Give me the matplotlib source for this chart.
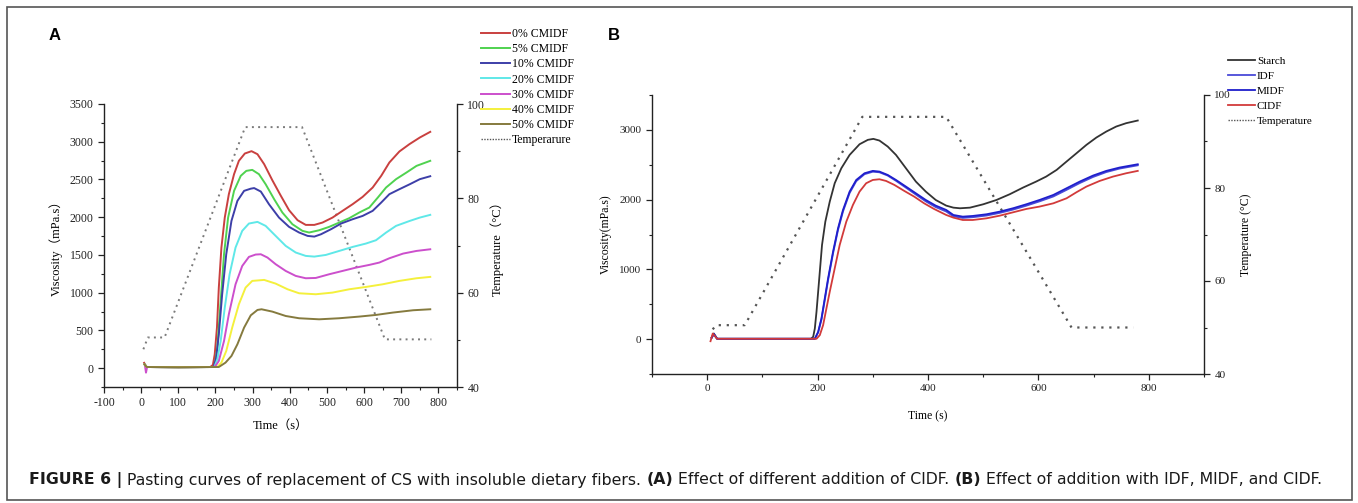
import matplotlib
matplotlib.use("Agg")
import matplotlib.pyplot as plt
from matplotlib.lines import Line2D
from matplotlib.patches import Rectangle
from matplotlib.ticker import MultipleLocator

plt.rcParams["axes.unicode_minus"] = False

W, H = 1358, 503
SERIF = ["Liberation Serif", "Noto Sans CJK SC", "DejaVu Sans"]
SANS = ["Liberation Sans", "DejaVu Sans"]
CAP_FONT = ["DejaVu Sans"]

# ---- panel A: viscosity (mPa.s) vs time (s) for CMIDF additions ----
LABELS_A = ["0% CMIDF", "5% CMIDF", "10% CMIDF", "20% CMIDF", "30% CMIDF", "40% CMIDF", "50% CMIDF"]
COLORS_A = ["#c9403f", "#4fd24f", "#3d3fa8", "#5fe8e8", "#cc4fcc", "#f4f03c", "#857a3e"]

t_a0 = [8, 14, 100, 186, 193, 198, 204, 209, 216, 225, 236, 250, 263, 279, 297, 313, 331, 353, 376, 398, 421, 443,
        466, 488, 515, 542, 569, 596, 623, 646, 668, 695, 722, 750, 778]
v_a0 = [70, 15, 12, 15, 42, 183, 537, 1067, 1598, 1995, 2305, 2570, 2747, 2844, 2875, 2835, 2703, 2490, 2283, 2093,
        1960, 1898, 1898, 1929, 1995, 2084, 2172, 2269, 2393, 2548, 2725, 2871, 2968, 3056, 3131]
t_a5 = [9, 15, 100, 193, 198, 205, 214, 223, 234, 250, 268, 283, 299, 317, 335, 358, 380, 407, 434, 452, 479, 506,
        533, 560, 587, 614, 637, 659, 686, 714, 741, 778]
v_a5 = [50, 15, 12, 15, 30, 272, 890, 1509, 1995, 2349, 2548, 2614, 2627, 2570, 2437, 2238, 2062, 1907, 1819, 1797,
        1827, 1872, 1929, 1987, 2062, 2128, 2261, 2393, 2504, 2592, 2680, 2747]
t_a10 = [9, 15, 100, 195, 202, 209, 218, 229, 243, 259, 277, 295, 304, 322, 344, 371, 398, 425, 448, 466, 484, 511,
         538, 569, 596, 623, 646, 668, 695, 723, 750, 778]
v_a10 = [50, 15, 12, 15, 139, 448, 979, 1509, 1951, 2216, 2349, 2378, 2386, 2340, 2172, 1995, 1872, 1797, 1752, 1743,
         1774, 1841, 1916, 1973, 2017, 2084, 2194, 2305, 2371, 2437, 2504, 2543]
t_a20 = [9, 15, 100, 197, 205, 214, 225, 238, 254, 272, 290, 313, 335, 362, 389, 416, 443, 466, 497, 533, 569, 605,
         632, 659, 686, 723, 750, 778]
v_a20 = [50, 15, 12, 15, 117, 360, 802, 1244, 1598, 1819, 1916, 1938, 1885, 1752, 1620, 1532, 1487, 1478, 1500, 1553,
         1606, 1651, 1695, 1796, 1885, 1951, 1995, 2031]
t_a30 = [10, 13, 16, 100, 195, 200, 209, 223, 236, 254, 272, 290, 308, 322, 340, 362, 389, 416, 443, 470, 506, 542,
         578, 614, 641, 668, 705, 741, 778]
v_a30 = [40, -60, 15, 12, 15, 28, 95, 360, 714, 1111, 1354, 1474, 1505, 1509, 1465, 1377, 1288, 1222, 1191, 1195,
         1244, 1288, 1332, 1368, 1399, 1456, 1518, 1553, 1575]
t_a40 = [9, 15, 100, 205, 216, 229, 245, 263, 281, 299, 331, 362, 394, 425, 470, 515, 560, 605, 650, 695, 741, 778]
v_a40 = [50, 15, 12, 15, 73, 227, 537, 846, 1067, 1156, 1169, 1120, 1045, 992, 979, 1001, 1045, 1076, 1111, 1156,
         1191, 1209]
t_a50 = [9, 15, 100, 209, 227, 243, 259, 277, 295, 313, 324, 353, 389, 425, 479, 533, 587, 632, 677, 732, 778]
v_a50 = [50, 15, 12, 15, 73, 161, 316, 537, 700, 771, 780, 749, 691, 661, 647, 661, 683, 705, 736, 767, 780]

temp_t_a = [6, 18, 63, 280, 433, 656, 781]
temp_a = [48.0, 50.5, 50.5, 95.1, 95.1, 50.1, 50.1]

# ---- panel B: starch vs IDF / MIDF / CIDF ----
LABELS_B = ["Starch", "IDF", "MIDF", "CIDF"]
COLORS_B = ["#333333", "#4a4ad8", "#1f1fcc", "#d23a3a"]

t_b_starch = [8, 12, 18, 100, 188, 192, 195, 198, 201, 204, 208, 214, 222, 231, 243, 258, 276, 291, 301, 312, 327,
              342, 360, 378, 396, 414, 433, 446, 458, 476, 500, 524, 548, 572, 596, 614, 633, 651, 669, 687, 705, 723,
              741, 759, 780]
v_b_starch = [20, 81, 5, 5, 5, 33, 153, 392, 679, 967, 1349, 1684, 1971, 2235, 2450, 2641, 2794, 2857, 2871, 2847,
              2761, 2641, 2450, 2259, 2115, 1995, 1914, 1885, 1876, 1885, 1933, 1995, 2077, 2172, 2259, 2330, 2426,
              2546, 2665, 2785, 2890, 2976, 3048, 3096, 3134]
t_b_fib = [8, 12, 18, 100, 190, 195, 201, 207, 213, 219, 228, 237, 246, 258, 270, 285, 300, 312, 327, 342, 360, 378,
           396, 414, 433, 446, 463, 481, 506, 530, 554, 578, 602, 627, 651, 675, 699, 723, 747, 780]
v_b_idf = [20, 70, 5, 5, 5, 5, 95, 280, 560, 845, 1230, 1565, 1830, 2095, 2265, 2365, 2400, 2392, 2345, 2270, 2172,
           2073, 1975, 1893, 1830, 1760, 1738, 1748, 1772, 1810, 1857, 1913, 1975, 2045, 2140, 2238, 2325, 2395, 2445,
           2492]
v_b_midf = [20, 75, 5, 5, 5, 5, 105, 297, 584, 871, 1254, 1589, 1852, 2115, 2282, 2378, 2412, 2402, 2354, 2282, 2187,
            2091, 1995, 1914, 1852, 1780, 1756, 1766, 1790, 1828, 1876, 1933, 1995, 2067, 2163, 2259, 2345, 2412, 2460,
            2507]
t_b_cidf = [6, 10, 18, 100, 192, 198, 204, 210, 216, 222, 231, 240, 252, 264, 276, 288, 300, 312, 324, 339, 357, 375,
            393, 411, 433, 446, 463, 481, 506, 530, 554, 578, 602, 627, 651, 669, 687, 711, 735, 759, 780]
v_b_cidf = [-30, 80, 5, 5, 5, 5, 57, 201, 440, 679, 1014, 1349, 1684, 1924, 2115, 2235, 2282, 2292, 2268, 2211, 2125,
            2043, 1947, 1866, 1780, 1742, 1708, 1708, 1732, 1770, 1818, 1866, 1900, 1947, 2019, 2106, 2187, 2268, 2330,
            2378, 2412]

temp_t_b = [10, 16, 68, 281, 433, 660, 772]
temp_b = [49.6, 50.5, 50.5, 95.3, 95.3, 50.0, 50.0]

CAPTION = [
    ("FIGURE 6 |", True),
    ("Pasting curves of replacement of CS with insoluble dietary fibers.", False),
    ("(A)", True),
    ("Effect of different addition of CIDF.", False),
    ("(B)", True),
    ("Effect of addition with IDF, MIDF, and CIDF.", False),
]


def px_axes(fig, left, top, right, bottom):
    return fig.add_axes([left / W, 1 - bottom / H, (right - left) / W, (bottom - top) / H])


def style_axes(ax, tw, xmaj, xmin, ymaj, ymin, labelsize):
    for side in ("top", "right"):
        ax.spines[side].set_visible(False)
    for side in ("top", "left", "bottom"):
        tw.spines[side].set_visible(False)
    for a in (ax, tw):
        for sp in a.spines.values():
            sp.set_linewidth(1.0)
            sp.set_color("#222222")
        a.tick_params(which="major", direction="out", length=4, width=0.9, labelsize=labelsize, colors="#222222")
        a.tick_params(which="minor", direction="out", length=2.5, width=0.8, colors="#222222")
    ax.xaxis.set_major_locator(MultipleLocator(xmaj))
    ax.xaxis.set_minor_locator(MultipleLocator(xmin))
    ax.yaxis.set_major_locator(MultipleLocator(ymaj))
    ax.yaxis.set_minor_locator(MultipleLocator(ymin))
    tw.set_ylim(40, 100)
    tw.yaxis.set_major_locator(MultipleLocator(20))
    tw.yaxis.set_minor_locator(MultipleLocator(10))
    for lab in ax.get_xticklabels() + ax.get_yticklabels() + tw.get_yticklabels():
        lab.set_family(SERIF)


def draw_caption(fig, x0, y, pieces, size):
    renderer = fig.canvas.get_renderer()
    probe1 = fig.text(0, 0, "x x", fontsize=size, family=CAP_FONT)
    probe2 = fig.text(0, 0, "xx", fontsize=size, family=CAP_FONT)
    space = probe1.get_window_extent(renderer).width - probe2.get_window_extent(renderer).width
    probe1.remove()
    probe2.remove()
    x = x0
    texts = []
    for text, bold in pieces:
        t = fig.text(x / W, y, text, fontsize=size, family=CAP_FONT, color="#1a1a1a",
                     fontweight="bold" if bold else "normal", ha="left", va="center")
        texts.append(t)
        x = t.get_window_extent(renderer).x1 + space
    return texts, x - space


def main():
    fig = plt.figure(figsize=(W / 100, H / 100), dpi=100)

    # panel A
    ax = px_axes(fig, 104, 104, 457, 387)
    tw = ax.twinx()
    tw.plot(temp_t_a, temp_a, color="#7a7a7a", lw=1.4, ls=(0, (1, 2.2)))
    series_a = [(t_a0, v_a0), (t_a5, v_a5), (t_a10, v_a10), (t_a20, v_a20), (t_a30, v_a30), (t_a40, v_a40),
                (t_a50, v_a50)]
    handles = []
    for (tt, vv), lab, col in zip(series_a, LABELS_A, COLORS_A):
        handles += ax.plot(tt, vv, color=col, lw=1.4, label=lab)
    ax.set_xlim(-100, 850)
    ax.set_ylim(-250, 3500)
    ax.set_zorder(tw.get_zorder() + 1)
    ax.patch.set_visible(False)
    style_axes(ax, tw, 100, 50, 500, 250, 8.5)
    ax.set_xlabel("Time（s）", family=SERIF, fontsize=9)
    ax.set_ylabel("Viscosity（mPa.s）", family=SERIF, fontsize=9)
    tw.set_ylabel("Temperature（°C）", family=SERIF, fontsize=9)
    ax.xaxis.set_label_coords(0.5, -0.115)
    ax.yaxis.set_label_coords(-0.117, 0.5)
    tw.yaxis.set_label_coords(1.095, 0.5)
    handles.append(Line2D([], [], color="#555555", lw=1.0, ls=(0, (1, 1))))
    fig.legend(handles, LABELS_A + ["Temperarure"], loc="upper left", bbox_to_anchor=(481 / W, 1 - 28 / H),
               frameon=False, borderpad=0, borderaxespad=0, handlelength=2.45, handletextpad=0.15,
               labelspacing=0.27, prop={"family": SERIF, "size": 8.5})
    fig.text(55 / W, 1 - 35 / H, "A", family=SANS, fontweight="bold", fontsize=12, ha="center", va="center")

    # panel B
    bx = px_axes(fig, 652, 95, 1204, 374)
    tb = bx.twinx()
    tb.plot(temp_t_b, temp_b, color="#555555", lw=1.6, ls=(0, (1, 2.6)))
    series_b = [(t_b_starch, v_b_starch), (t_b_fib, v_b_idf), (t_b_fib, v_b_midf), (t_b_cidf, v_b_cidf)]
    hb = []
    for (tt, vv), lab, col in zip(series_b, LABELS_B, COLORS_B):
        hb += bx.plot(tt, vv, color=col, lw=1.3, label=lab)
    bx.set_xlim(-100, 900)
    bx.set_ylim(-500, 3500)
    bx.set_zorder(tb.get_zorder() + 1)
    bx.patch.set_visible(False)
    style_axes(bx, tb, 200, 100, 1000, 500, 8)
    bx.set_xlabel("Time (s)", family=SERIF, fontsize=8.5)
    bx.set_ylabel("Viscosity(mPa.s)", family=SERIF, fontsize=8.5)
    tb.set_ylabel("Temperature (°C)", family=SERIF, fontsize=8.5)
    bx.xaxis.set_label_coords(0.5, -0.129)
    bx.yaxis.set_label_coords(-0.072, 0.5)
    tb.yaxis.set_label_coords(1.066, 0.5)
    hb.append(Line2D([], [], color="#555555", lw=1.0, ls=(0, (1, 1))))
    fig.legend(hb, LABELS_B + ["Temperature"], loc="upper left", bbox_to_anchor=(1228 / W, 1 - 56 / H),
               frameon=False, borderpad=0, borderaxespad=0, handlelength=2.45, handletextpad=0.15,
               labelspacing=0.47, prop={"family": SERIF, "size": 8})
    fig.text(614 / W, 1 - 35 / H, "B", family=SANS, fontweight="bold", fontsize=12, ha="center", va="center")

    # frame and caption (font size fitted so the caption spans the same width as the original)
    fig.add_artist(Rectangle((7 / W, 3 / H), (1352 - 7) / W, (500 - 7) / H, transform=fig.transFigure,
                             fill=False, edgecolor="#555555", lw=1.2))
    size = 10.4
    texts, x_end = draw_caption(fig, 29, 1 - 480 / H, CAPTION, size)
    for t in texts:
        t.remove()
    draw_caption(fig, 29, 1 - 480 / H, CAPTION, size * (1317 - 29) / (x_end - 29))

    fig.savefig("out.png", dpi=100)


if __name__ == "__main__":
    main()
